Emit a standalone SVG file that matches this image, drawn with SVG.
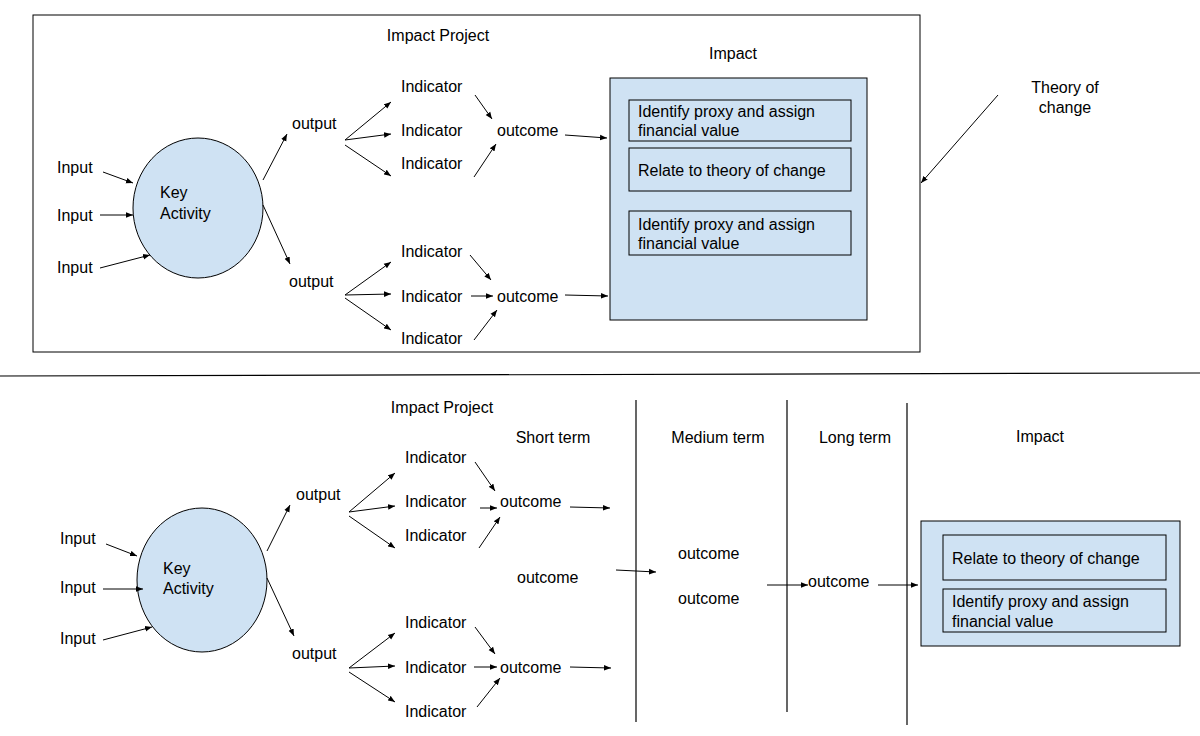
<svg xmlns="http://www.w3.org/2000/svg" width="1200" height="736" viewBox="0 0 1200 736">
<defs>
<marker id="a" viewBox="0 0 10 10" refX="10" refY="5" markerWidth="7" markerHeight="7" orient="auto"><path d="M0,1 L10,5 L0,9 z" fill="#000"/></marker>
<style>
text{font-family:"Liberation Sans",Arial,sans-serif;font-size:16px;fill:#000}
.c{text-anchor:middle}
.blue{fill:#cfe2f3;stroke:#000;stroke-width:1}
.box{fill:none;stroke:#000;stroke-width:1}
#conn line{stroke:#000;stroke-width:1;marker-end:url(#a)}
.ln{stroke:#000;stroke-width:1.2}
</style>
</defs>
<rect width="1200" height="736" fill="#fff"/>
<rect x="33" y="15" width="887" height="337" class="box"/>
<line x1="0" y1="376" x2="1200" y2="373" class="ln"/>
<line x1="636" y1="400" x2="636" y2="722" class="ln"/>
<line x1="787" y1="400" x2="787" y2="712" class="ln"/>
<line x1="907" y1="403" x2="907" y2="725" class="ln"/>
<text x="438" y="41" class="c">Impact Project</text>
<text x="733" y="59" class="c">Impact</text>
<text x="1065" y="93" class="c">Theory of</text>
<text x="1065" y="113" class="c">change</text>
<text x="442" y="413" class="c">Impact Project</text>
<text x="553" y="443" class="c">Short term</text>
<text x="718" y="443" class="c">Medium term</text>
<text x="855" y="443" class="c">Long term</text>
<text x="1040" y="442" class="c">Impact</text>
<g id="impact1"><rect x="610" y="78" width="257" height="242" class="blue"/>
<rect x="629" y="100" width="222" height="41" class="box"/><text x="638" y="117">Identify proxy and assign</text><text x="638" y="136">financial value</text>
<rect x="629" y="148" width="222" height="43" class="box"/><text x="638" y="176">Relate to theory of change</text>
<rect x="629" y="211" width="222" height="44" class="box"/><text x="638" y="230">Identify proxy and assign</text><text x="638" y="249">financial value</text></g>
<g id="impact2"><rect x="921" y="521" width="259" height="125" class="blue"/>
<rect x="943" y="535" width="223" height="45" class="box"/><text x="952" y="564">Relate to theory of change</text>
<rect x="943" y="589" width="223" height="43" class="box"/><text x="952" y="607">Identify proxy and assign</text><text x="952" y="627">financial value</text></g>
<g id="key1"><ellipse cx="198" cy="208" rx="65" ry="70" class="blue"/><text x="160" y="198">Key</text><text x="160" y="219">Activity</text></g>
<g id="key2"><ellipse cx="202" cy="580" rx="65" ry="72" class="blue"/><text x="163" y="574">Key</text><text x="163" y="594">Activity</text></g>
<g id="labels">
<text x="57" y="173">Input</text><text x="57" y="221">Input</text><text x="57" y="273">Input</text>
<text x="292" y="129">output</text><text x="289" y="287">output</text>
<text x="401" y="92">Indicator</text><text x="401" y="136">Indicator</text><text x="401" y="169">Indicator</text>
<text x="401" y="257">Indicator</text><text x="401" y="302">Indicator</text><text x="401" y="344">Indicator</text>
<text x="497" y="136">outcome</text><text x="497" y="302">outcome</text>
<text x="60" y="544">Input</text><text x="60" y="593">Input</text><text x="60" y="644">Input</text>
<text x="296" y="500">output</text><text x="292" y="659">output</text>
<text x="405" y="463">Indicator</text><text x="405" y="507">Indicator</text><text x="405" y="541">Indicator</text>
<text x="405" y="628">Indicator</text><text x="405" y="673">Indicator</text><text x="405" y="717">Indicator</text>
<text x="500" y="507">outcome</text><text x="500" y="673">outcome</text>
<text x="517" y="583">outcome</text><text x="678" y="559">outcome</text><text x="678" y="604">outcome</text><text x="808" y="587">outcome</text>
</g>
<g id="conn">
<line x1="998" y1="95" x2="921" y2="183"/>
<line x1="103" y1="172" x2="133" y2="183"/><line x1="100" y1="215" x2="133" y2="215"/><line x1="100" y1="268" x2="150" y2="255"/>
<line x1="263" y1="180" x2="287" y2="134"/><line x1="263" y1="205" x2="290" y2="264"/>
<line x1="345" y1="140" x2="391" y2="102"/><line x1="345" y1="140" x2="391" y2="134"/><line x1="345" y1="145" x2="391" y2="176"/>
<line x1="475" y1="95" x2="492" y2="119"/><line x1="474" y1="177" x2="496" y2="144"/><line x1="565" y1="135" x2="607" y2="138"/>
<line x1="345" y1="295" x2="391" y2="262"/><line x1="345" y1="295" x2="391" y2="294"/><line x1="345" y1="298" x2="391" y2="330"/>
<line x1="470" y1="255" x2="491" y2="280"/><line x1="471" y1="296" x2="493" y2="296"/><line x1="474" y1="340" x2="497" y2="310"/><line x1="565" y1="295" x2="608" y2="296"/>
<line x1="106" y1="544" x2="137" y2="556"/><line x1="103" y1="589" x2="143" y2="589"/><line x1="103" y1="640" x2="152" y2="627"/>
<line x1="267" y1="551" x2="290" y2="505"/><line x1="267" y1="578" x2="294" y2="636"/>
<line x1="349" y1="512" x2="395" y2="473"/><line x1="349" y1="512" x2="395" y2="506"/><line x1="349" y1="516" x2="395" y2="548"/>
<line x1="475" y1="462" x2="495" y2="491"/><line x1="480" y1="508" x2="497" y2="508"/><line x1="479" y1="548" x2="500" y2="517"/><line x1="570" y1="507" x2="610" y2="508"/>
<line x1="349" y1="668" x2="395" y2="633"/><line x1="349" y1="668" x2="395" y2="666"/><line x1="349" y1="672" x2="395" y2="702"/>
<line x1="475" y1="627" x2="495" y2="654"/><line x1="474" y1="667" x2="497" y2="667"/><line x1="477" y1="707" x2="500" y2="678"/><line x1="570" y1="667" x2="611" y2="668"/>
<line x1="616" y1="570" x2="656" y2="572"/><line x1="767" y1="585" x2="808" y2="585"/><line x1="878" y1="585" x2="918" y2="585"/>
</g>
</svg>
